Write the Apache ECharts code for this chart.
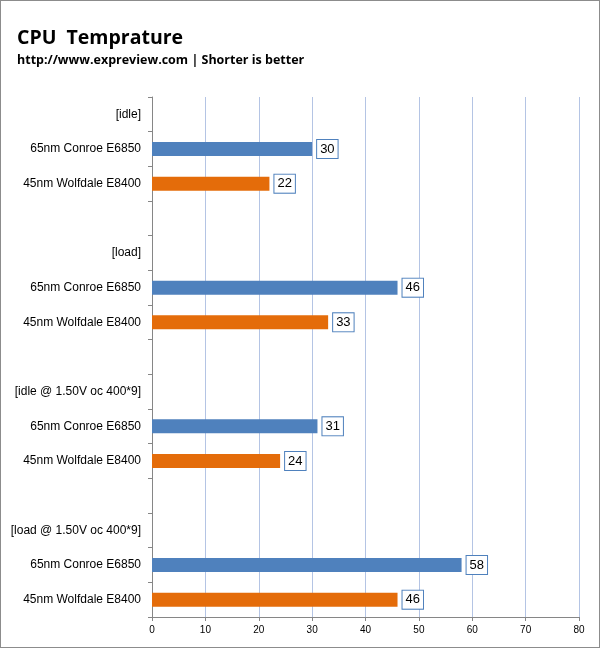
<!DOCTYPE html>
<html><head><meta charset="utf-8">
<script src="https://cdn.jsdelivr.net/npm/echarts@6/dist/echarts.min.js"></script>
<style>
html,body{margin:0;padding:0;background:#fff;}
#wrap{position:absolute;left:0;top:0;width:598px;height:646px;border:1px solid #8c8c8c;}
#c{width:600px;height:648px;position:absolute;left:-1px;top:-1px;}
</style></head>
<body><div id="wrap"><div id="c"></div></div>
<script>
var scenarios = ['[idle]', '[load]', '[idle @ 1.50V oc 400*9]', '[load @ 1.50V oc 400*9]'];
var cpuNames = ['65nm Conroe E6850', '45nm Wolfdale E8400'];
var conroe = [30, 46, 31, 58];
var wolfdale = [22, 33, 24, 46];
var xTicks = [0, 10, 20, 30, 40, 50, 60, 70, 80];

var categories = [], s1 = [], s2 = [];
scenarios.forEach(function(s, i){
  if (i > 0) { categories.push(' '.repeat(i)); s1.push('-'); s2.push('-'); }
  categories.push(s); s1.push('-'); s2.push('-');
  categories.push(cpuNames[0] + '\u200b'.repeat(i)); s1.push(conroe[i]); s2.push('-');
  categories.push(cpuNames[1] + '\u200b'.repeat(i)); s1.push('-'); s2.push(wolfdale[i]);
});

var chart = echarts.init(document.getElementById('c'));
var lbl = {
  show: true, position: 'right', distance: 5,
  color: '#000', fontFamily: 'Arial, Liberation Sans', fontSize: 13,
  backgroundColor: '#fff', borderColor: '#4F81BD', borderWidth: 1,
  padding: [3, 3, 2, 3]
};
chart.setOption({
  animation: false,
  title: [{
    text: 'CPU  Temprature', left: 17, top: 28, padding: 0,
    textStyle: {fontFamily: 'Open Sans', fontWeight: 'bold', fontSize: 19.5, color: '#000'}
  }, {
    text: 'http://www.expreview.com | Shorter is better', left: 17, top: 54, padding: 0,
    textStyle: {fontFamily: 'Open Sans', fontWeight: 'bold', fontSize: 12.5, color: '#000'}
  }],
  grid: {left: 152, right: 21, top: 97, bottom: 31, containLabel: false},
  xAxis: {
    type: 'value', min: xTicks[0], max: xTicks[xTicks.length-1], interval: 10,
    axisLine: {show: true, lineStyle: {color: '#868686'}},
    axisTick: {show: true, length: 4, lineStyle: {color: '#868686'}},
    axisLabel: {fontFamily: 'Arial, Liberation Sans', fontSize: 10, color: '#000', margin: 8},
    splitLine: {show: true, lineStyle: {color: '#B4C4E4'}}
  },
  yAxis: {
    type: 'category', data: categories, inverse: true,
    axisLine: {show: true, lineStyle: {color: '#868686'}},
    axisTick: {show: true, length: 4, lineStyle: {color: '#868686'}},
    axisLabel: {fontFamily: 'Arial, Liberation Sans', fontSize: 12, color: '#000', margin: 11,
      formatter: function(v){ return v.replace(/\u200b/g,''); }}
  },
  series: [{
    type: 'bar', data: s1, barWidth: 14, barGap: '-100%',
    itemStyle: {color: '#4F81BD'}, label: lbl
  }, {
    type: 'bar', data: s2, barWidth: 14,
    itemStyle: {color: '#E46C0A'}, label: lbl
  }]
});
</script></body></html>
